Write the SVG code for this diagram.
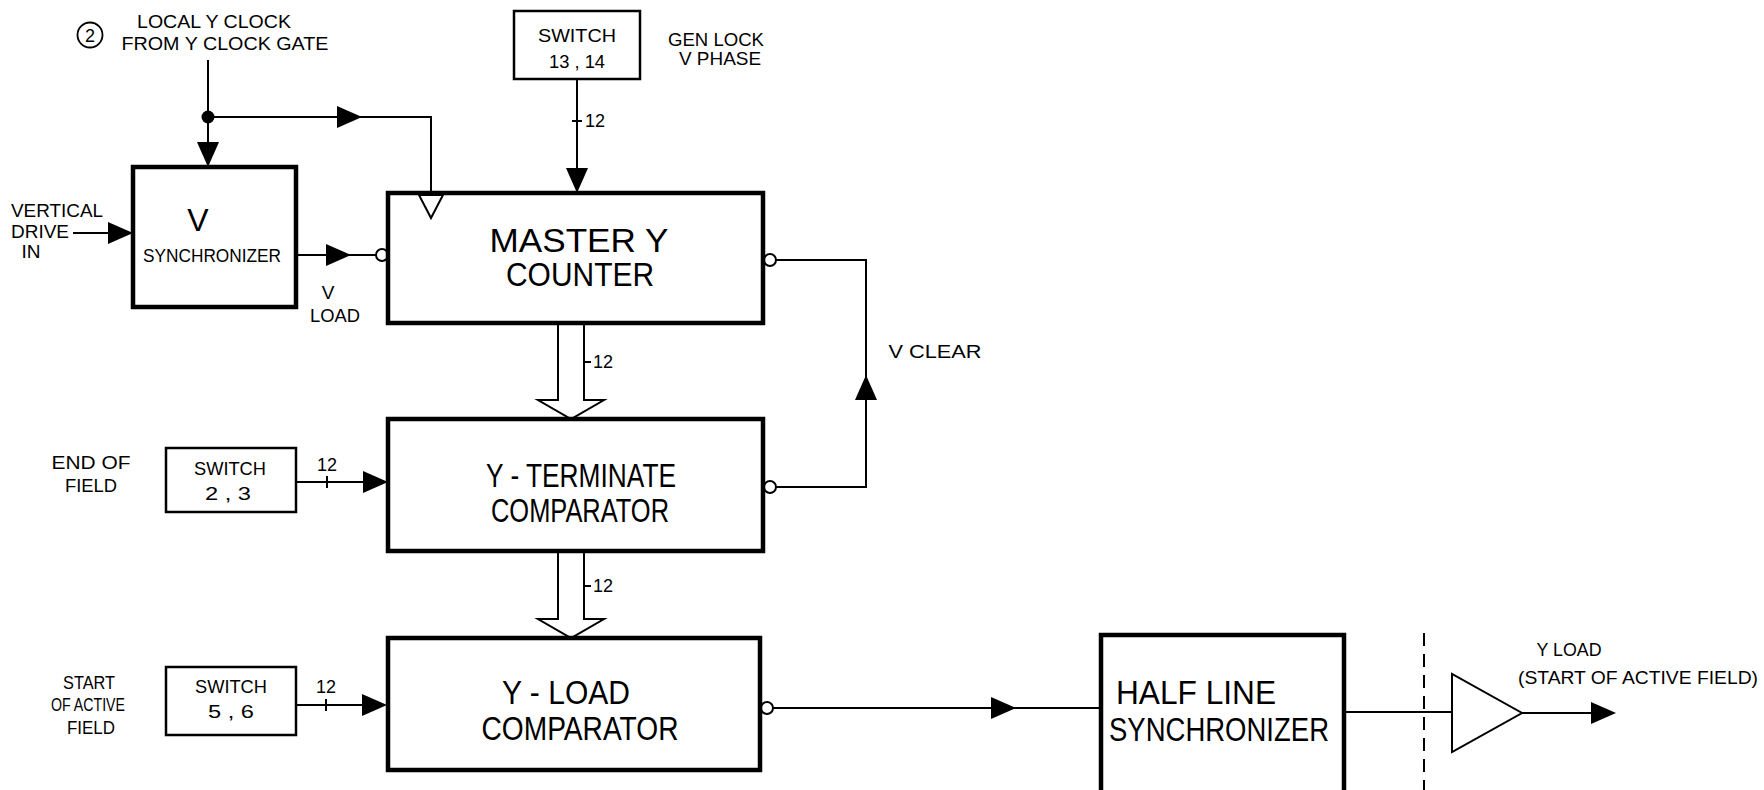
<svg xmlns="http://www.w3.org/2000/svg" xmlns:xlink="http://www.w3.org/1999/xlink" width="1764" height="790" viewBox="0 0 1764 790">
<defs>
<style>
.box{fill:#fff;stroke:#000;stroke-width:4.5}
.sw{fill:#fff;stroke:#000;stroke-width:2.5}
.ln{fill:none;stroke:#000;stroke-width:2}
.bus{fill:#fff;stroke:#000;stroke-width:2;stroke-linejoin:miter}
.inv{fill:#fff;stroke:#000;stroke-width:2}
.t{font-family:"Liberation Sans",Arial,sans-serif;fill:#000;text-anchor:middle}
.s{font-size:18px}
.m{font-size:19px}
.b{font-size:33px}
</style>
<path id="ah" d="M0,0 L-25,-11 L-25,11 Z" fill="#000"/>
</defs>
<rect width="1764" height="790" fill="#fff"/>

<g id="connectors">
  <line class="ln" x1="208" y1="60" x2="208" y2="145"/>
  <circle cx="208" cy="117" r="6.5" fill="#000"/>
  <use xlink:href="#ah" transform="translate(208,167) rotate(90)"/>
  <polyline class="ln" points="208,117 431,117 431,195"/>
  <use xlink:href="#ah" transform="translate(362,117)"/>
  <line class="ln" x1="73" y1="233" x2="112" y2="233"/>
  <use xlink:href="#ah" transform="translate(133,233)"/>
  <line class="ln" x1="296" y1="255" x2="376" y2="255"/>
  <use xlink:href="#ah" transform="translate(351,255)"/>
  <circle class="inv" cx="382" cy="255" r="6"/>
  <line class="ln" x1="577" y1="79" x2="577" y2="170"/>
  <line class="ln" x1="572" y1="121" x2="582" y2="121"/>
  <use xlink:href="#ah" transform="translate(577,193) rotate(90)"/>
  <circle class="inv" cx="770" cy="260" r="6"/>
  <polyline class="ln" points="776,260 866,260 866,487 776,487"/>
  <circle class="inv" cx="770" cy="487" r="6"/>
  <use xlink:href="#ah" transform="translate(866,375) rotate(-90)"/>
  <path class="bus" d="M558,325 L558,400 L538,400 L571,419 L604,400 L584,400 L584,325"/>
  <line class="ln" x1="584" y1="362" x2="591" y2="362"/>
  <path class="bus" d="M558,553 L558,619 L538,619 L571,638 L604,619 L584,619 L584,553"/>
  <line class="ln" x1="584" y1="586" x2="591" y2="586"/>
  <line class="ln" x1="296" y1="482" x2="365" y2="482"/>
  <line class="ln" x1="327" y1="476" x2="327" y2="488"/>
  <use xlink:href="#ah" transform="translate(388,482)"/>
  <line class="ln" x1="296" y1="705" x2="365" y2="705"/>
  <line class="ln" x1="326" y1="699" x2="326" y2="711"/>
  <use xlink:href="#ah" transform="translate(387,705)"/>
  <circle class="inv" cx="767" cy="708" r="6"/>
  <line class="ln" x1="773" y1="708" x2="1101" y2="708"/>
  <use xlink:href="#ah" transform="translate(1016,708)"/>
  <line class="ln" x1="1344" y1="712" x2="1452" y2="712"/>
  <line x1="1424" y1="633" x2="1424" y2="790" stroke="#000" stroke-width="2" stroke-dasharray="13,8"/>
  <polygon class="inv" points="1452,674 1452,752 1522,713"/>
  <line class="ln" x1="1522" y1="713" x2="1598" y2="713"/>
  <use xlink:href="#ah" transform="translate(1616,713)"/>
</g>

<g id="labels">
  <circle cx="90" cy="35" r="12.5" fill="none" stroke="#000" stroke-width="1.8"/>
  <text class="t s" x="90" y="42">2</text>
  <text class="t m" x="214" y="28" textLength="154" lengthAdjust="spacingAndGlyphs">LOCAL Y CLOCK</text>
  <text class="t m" x="225" y="50" textLength="207" lengthAdjust="spacingAndGlyphs">FROM Y CLOCK GATE</text>
  <text class="t m" x="57" y="217" textLength="92" lengthAdjust="spacingAndGlyphs">VERTICAL</text>
  <text class="t m" x="40" y="238" textLength="58" lengthAdjust="spacingAndGlyphs">DRIVE</text>
  <text class="t m" x="31" y="258">IN</text>
  <text class="t m" x="328" y="299">V</text>
  <text class="t m" x="335" y="322" textLength="50" lengthAdjust="spacingAndGlyphs">LOAD</text>
  <text class="t s" x="716" y="46" textLength="96" lengthAdjust="spacingAndGlyphs">GEN LOCK</text>
  <text class="t s" x="720" y="65" textLength="82" lengthAdjust="spacingAndGlyphs">V PHASE</text>
  <text class="t s" x="595" y="127">12</text>
  <text class="t m" x="935" y="358" textLength="93" lengthAdjust="spacingAndGlyphs">V  CLEAR</text>
  <text class="t s" x="603" y="368">12</text>
  <text class="t s" x="603" y="592">12</text>
  <text class="t s" x="91" y="469" textLength="79" lengthAdjust="spacingAndGlyphs">END  OF</text>
  <text class="t s" x="91" y="492" textLength="52" lengthAdjust="spacingAndGlyphs">FIELD</text>
  <text class="t s" x="327" y="471">12</text>
  <text class="t s" x="89" y="689" textLength="52" lengthAdjust="spacingAndGlyphs">START</text>
  <text class="t s" x="88" y="711" textLength="74" lengthAdjust="spacingAndGlyphs">OF ACTIVE</text>
  <text class="t s" x="91" y="734" textLength="48" lengthAdjust="spacingAndGlyphs">FIELD</text>
  <text class="t s" x="326" y="693">12</text>
  <text class="t s" x="1569" y="656" textLength="65" lengthAdjust="spacingAndGlyphs">Y LOAD</text>
  <text class="t s" x="1638" y="684" textLength="240" lengthAdjust="spacingAndGlyphs">(START OF ACTIVE FIELD)</text>
</g>

<g id="v-sync">
  <rect class="box" x="133" y="167" width="163" height="140"/>
  <text class="t" x="198" y="231" font-size="32">V</text>
  <text class="t m" x="212" y="262" textLength="138" lengthAdjust="spacingAndGlyphs">SYNCHRONIZER</text>
</g>

<g id="switch-13-14">
  <rect class="sw" x="514" y="11" width="126" height="68"/>
  <text class="t s" x="577" y="42" textLength="78" lengthAdjust="spacingAndGlyphs">SWITCH</text>
  <text class="t s" x="577" y="68" textLength="56" lengthAdjust="spacingAndGlyphs">13 , 14</text>
</g>

<g id="master-y-counter">
  <rect class="box" x="388" y="193" width="375" height="130"/>
  <polygon class="inv" points="419,195 443,195 431,218"/>
  <text class="t b" x="579" y="252" textLength="179" lengthAdjust="spacingAndGlyphs">MASTER  Y</text>
  <text class="t b" x="580" y="286" textLength="148" lengthAdjust="spacingAndGlyphs">COUNTER</text>
</g>

<g id="switch-2-3">
  <rect class="sw" x="166" y="448" width="130" height="64"/>
  <text class="t s" x="230" y="475" textLength="72" lengthAdjust="spacingAndGlyphs">SWITCH</text>
  <text class="t s" x="228" y="500" textLength="46" lengthAdjust="spacingAndGlyphs">2 , 3</text>
</g>

<g id="y-terminate-comparator">
  <rect class="box" x="388" y="419" width="375" height="132"/>
  <text class="t b" x="581" y="487" textLength="190" lengthAdjust="spacingAndGlyphs">Y - TERMINATE</text>
  <text class="t b" x="580" y="522" textLength="178" lengthAdjust="spacingAndGlyphs">COMPARATOR</text>
</g>

<g id="switch-5-6">
  <rect class="sw" x="166" y="667" width="130" height="68"/>
  <text class="t s" x="231" y="693" textLength="72" lengthAdjust="spacingAndGlyphs">SWITCH</text>
  <text class="t s" x="231" y="718" textLength="46" lengthAdjust="spacingAndGlyphs">5 , 6</text>
</g>

<g id="y-load-comparator">
  <rect class="box" x="388" y="638" width="372" height="132"/>
  <text class="t b" x="566" y="704" textLength="128" lengthAdjust="spacingAndGlyphs">Y - LOAD</text>
  <text class="t b" x="580" y="740" textLength="197" lengthAdjust="spacingAndGlyphs">COMPARATOR</text>
</g>

<g id="half-line-synchronizer">
  <rect class="box" x="1101" y="635" width="243" height="160"/>
  <text class="t b" x="1196" y="704" textLength="160" lengthAdjust="spacingAndGlyphs">HALF LINE</text>
  <text class="t b" x="1219" y="741" textLength="220" lengthAdjust="spacingAndGlyphs">SYNCHRONIZER</text>
</g>
</svg>
